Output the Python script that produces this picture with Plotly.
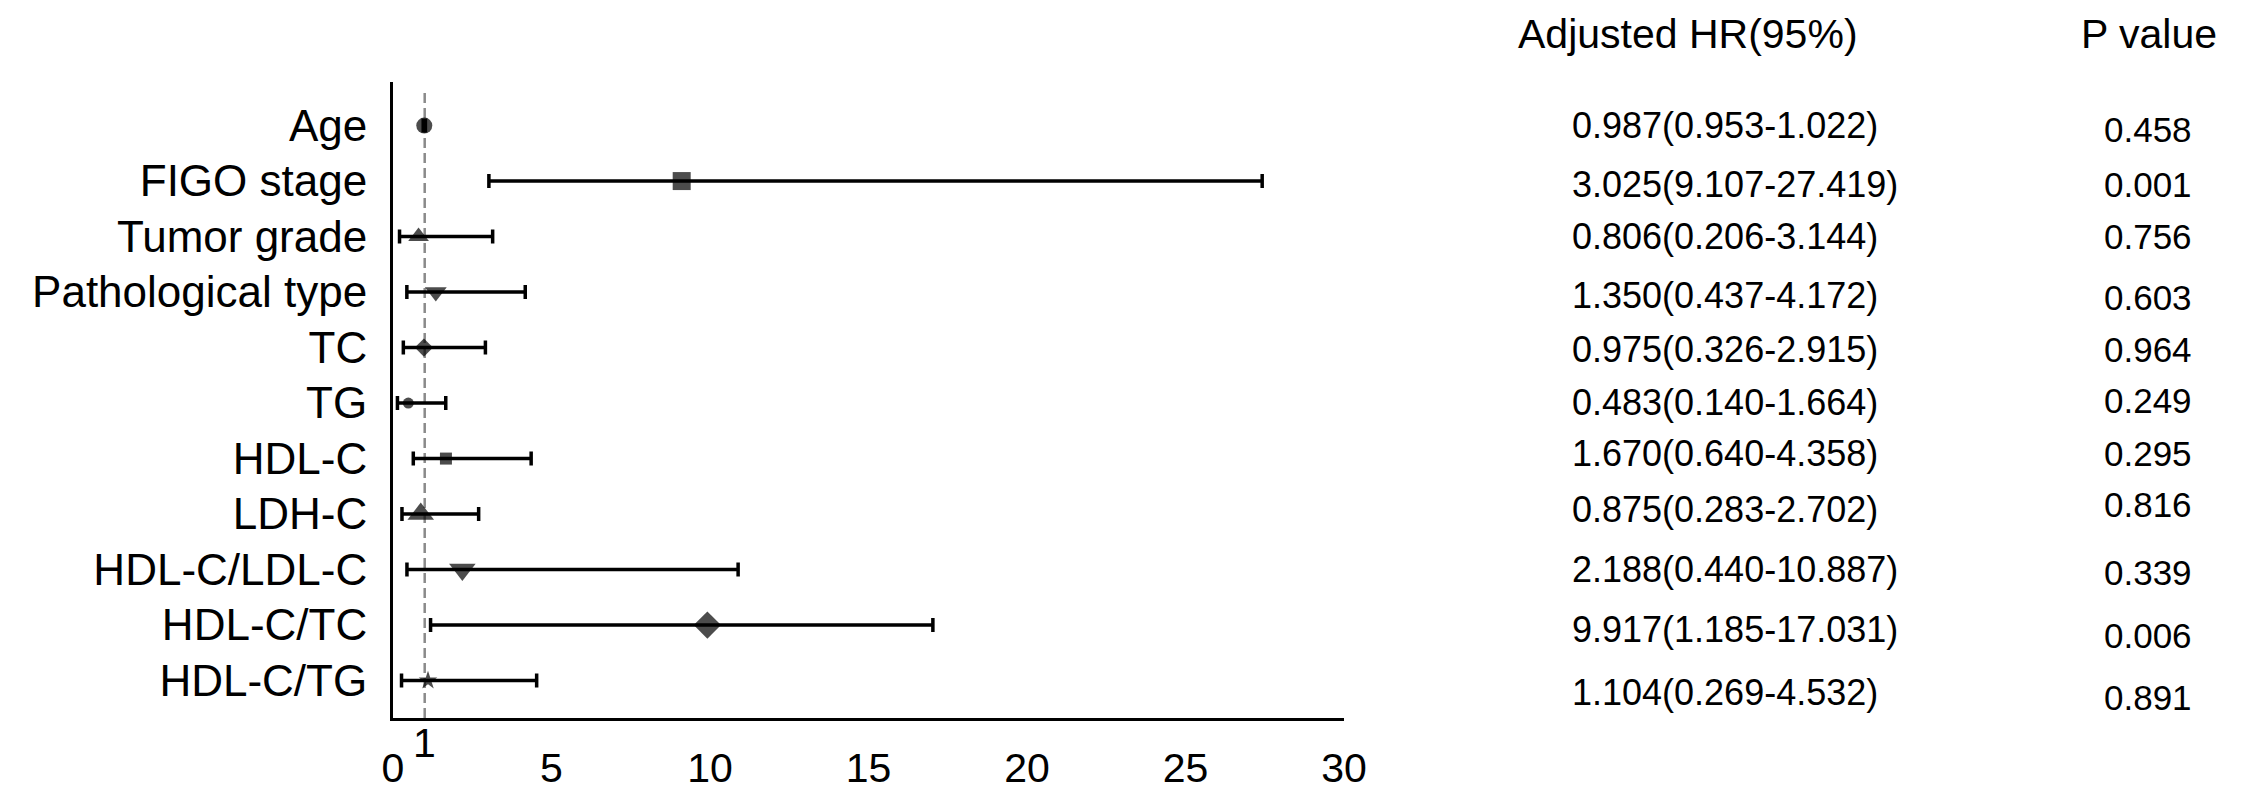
import plotly.graph_objects as go

# ---------------- data ----------------
labels = ["Age", "FIGO stage", "Tumor grade", "Pathological type", "TC", "TG",
          "HDL-C", "LDH-C", "HDL-C/LDL-C", "HDL-C/TC", "HDL-C/TG"]
hr = [0.987, 9.107, 0.806, 1.350, 0.975, 0.483, 1.670, 0.875, 2.188, 9.917, 1.104]
ci_low = [0.953, 3.025, 0.206, 0.437, 0.326, 0.140, 0.640, 0.283, 0.440, 1.185, 0.269]
ci_high = [1.022, 27.419, 3.144, 4.172, 2.915, 1.664, 4.358, 2.702, 10.887, 17.031, 4.532]
hr_text = ["0.987(0.953-1.022)", "3.025(9.107-27.419)", "0.806(0.206-3.144)",
           "1.350(0.437-4.172)", "0.975(0.326-2.915)", "0.483(0.140-1.664)",
           "1.670(0.640-4.358)", "0.875(0.283-2.702)", "2.188(0.440-10.887)",
           "9.917(1.185-17.031)", "1.104(0.269-4.532)"]
p_text = ["0.458", "0.001", "0.756", "0.603", "0.964", "0.249",
          "0.295", "0.816", "0.339", "0.006", "0.891"]
x_ticks = [0, 5, 10, 15, 20, 25, 30]
ref_value = 1
header_hr = "Adjusted HR(95%)"
header_p = "P value"

# ---------------- styles ----------------
symbols = ["circle", "square", "triangle-up", "triangle-down", "diamond", "circle",
           "square", "triangle-up", "triangle-down", "diamond", "star"]
sizes = [16, 18, 18, 19, 14, 11, 12, 23, 23, 21, 14]
hr_nudge = [0, 3, 0, 3, 2, -1, -5, -5, 0, 4, 12]    # px, downward
p_nudge = [4, 3, 0, 5, 2, -3, -5, -10, 3, 10, 17]
FONT = "Liberation Sans, Arial, sans-serif"

n = len(labels)
ypos = [n - i for i in range(n)]

fig = go.Figure()
fig.add_trace(go.Scatter(
    x=hr, y=ypos, mode="markers",
    marker=dict(symbol=symbols, size=sizes, color="black", line=dict(width=0)),
    error_x=dict(type="data", symmetric=False,
                 array=[h - m for h, m in zip(ci_high, hr)],
                 arrayminus=[m - l for m, l in zip(hr, ci_low)],
                 color="black", thickness=3.5, width=7),
    cliponaxis=False, showlegend=False, hoverinfo="skip"))

# reference line at HR = 1
fig.add_shape(type="line", xref="x", yref="paper", x0=ref_value, x1=ref_value,
              y0=0, y1=0.983, line=dict(color="#8a8a8a", width=2.5, dash="10px,5px"),
              layer="below")

# special tick label "1"
fig.add_annotation(x=ref_value, xref="x", y=-0.04, yref="paper", text=str(ref_value),
                   showarrow=False, yanchor="middle", xanchor="center",
                   font=dict(family=FONT, size=41, color="black"))

# right-hand table
fig.add_annotation(x=1.362, xref="paper", y=1.0755, yref="paper", text=header_hr,
                   showarrow=False, xanchor="center", yanchor="middle",
                   font=dict(family=FONT, size=41, color="black"))
fig.add_annotation(x=1.847, xref="paper", y=1.0755, yref="paper", text=header_p,
                   showarrow=False, xanchor="center", yanchor="middle",
                   font=dict(family=FONT, size=41, color="black"))
for i in range(n):
    fig.add_annotation(x=1.238, xref="paper", y=ypos[i], yref="y", text=hr_text[i],
                       showarrow=False, xanchor="left", yanchor="middle",
                       yshift=-hr_nudge[i],
                       font=dict(family=FONT, size=36, color="black"))
    fig.add_annotation(x=1.845, xref="paper", y=ypos[i], yref="y", text=p_text[i],
                       showarrow=False, xanchor="center", yanchor="middle",
                       yshift=-p_nudge[i],
                       font=dict(family=FONT, size=35, color="black"))

fig.update_layout(
    width=2249, height=791,
    margin=dict(l=385, r=913, t=74, b=81, pad=0),
    paper_bgcolor="white", plot_bgcolor="white",
    font=dict(family=FONT, color="black"),
    showlegend=False,
    xaxis=dict(range=[0, 30], tickvals=x_ticks, ticktext=[str(t) for t in x_ticks],
               showline=True, linecolor="black", linewidth=3, mirror=False,
               ticks="", showgrid=False, zeroline=False, automargin=False,
               tickfont=dict(family=FONT, size=41, color="black"),
               ticklabelstandoff=12),
    yaxis=dict(range=[0.326, 11.785], tickvals=ypos, ticktext=labels,
               showline=True, linecolor="black", linewidth=3, mirror=False,
               ticks="", showgrid=False, zeroline=False, automargin=False,
               tickfont=dict(family=FONT, size=44, color="black"),
               ticklabelstandoff=14),
)

fig.write_html("out.html")
